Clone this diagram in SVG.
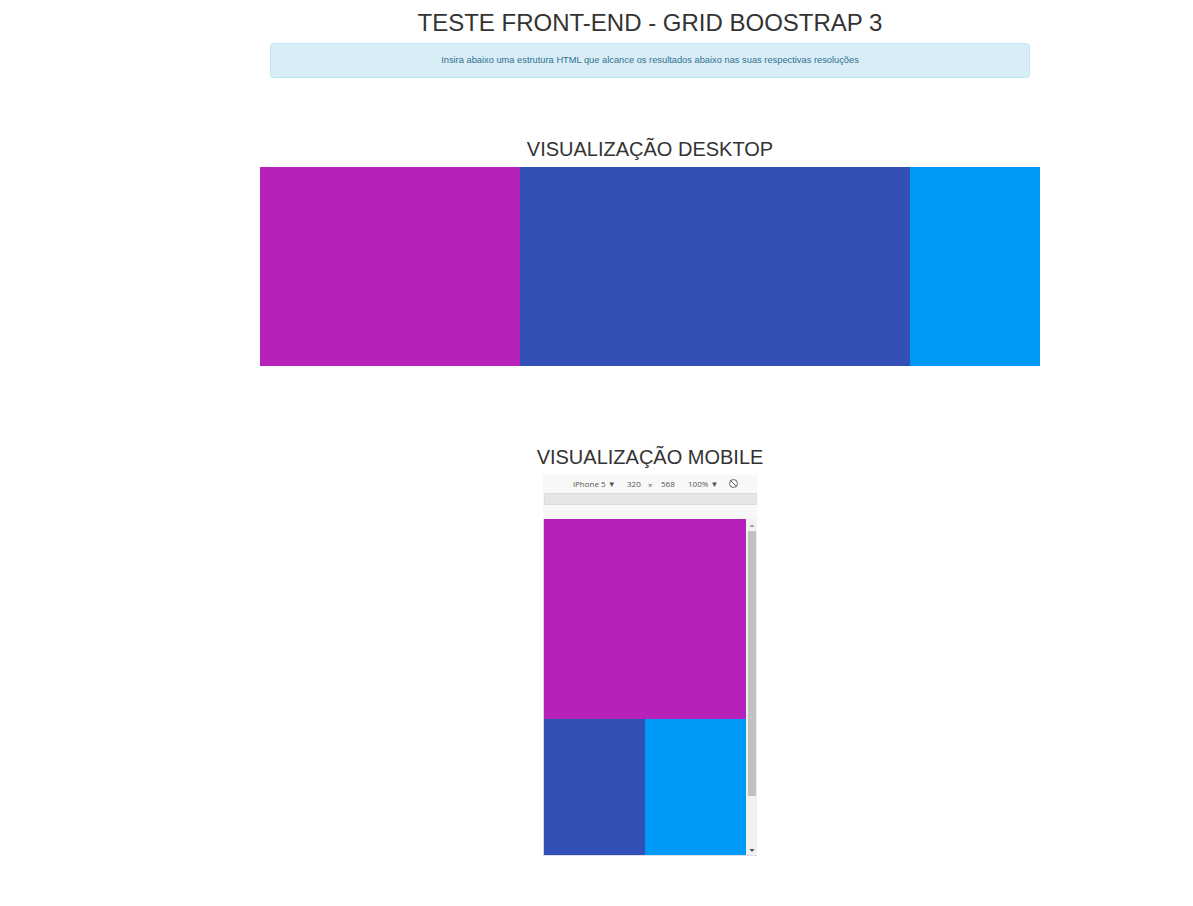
<svg xmlns="http://www.w3.org/2000/svg" width="1193" height="906" viewBox="0 0 1193 906">
<style>
text{font-family:"Liberation Sans",Arial,sans-serif;fill:#333}
.h{font-size:24px;text-anchor:middle}
.s{font-size:20px;text-anchor:middle}
.a{font-size:9.3px;fill:#31708f;text-anchor:middle}
.t{font-size:8px;fill:#555;font-family:"Open Sans","Liberation Sans",sans-serif}
.p{fill:#b521b9}
.b{fill:#3350b7}
.c{fill:#0099f8}
</style>
<rect width="1193" height="906" fill="#fff"/>
<g id="header">
<text class="h" x="650" y="31">TESTE FRONT-END - GRID BOOSTRAP 3</text>
<rect x="270.5" y="43.5" width="759" height="34" rx="3" fill="#d9edf7" stroke="#bce8f1"/>
<text class="a" x="650" y="62.5">Insira abaixo uma estrutura HTML que alcance os resultados abaixo nas suas respectivas resoluções</text>
</g>
<g id="desktop">
<text class="s" x="650" y="156">VISUALIZAÇÃO DESKTOP</text>
<rect class="p" x="260" y="167" width="260" height="199"/>
<rect class="b" x="520" y="167" width="390" height="199"/>
<rect class="c" x="910" y="167" width="130" height="199"/>
</g>
<g id="mobile">
<text class="s" x="650" y="464">VISUALIZAÇÃO MOBILE</text>
<rect x="543" y="475" width="214" height="381" fill="#f8f8f8"/>
<text class="t" x="573" y="487">iPhone 5 ▼</text>
<text class="t" x="627" y="487">320</text>
<text class="t" x="648" y="488" fill="#777">×</text>
<text class="t" x="661" y="487">568</text>
<text class="t" x="688" y="487">100% ▼</text>
<circle cx="733.5" cy="483.5" r="4" fill="none" stroke="#666" stroke-width="1"/>
<line x1="730.7" y1="480.7" x2="736.3" y2="486.3" stroke="#666" stroke-width="1"/>
<rect x="544.5" y="493.5" width="212" height="11" fill="#e6e6e6" stroke="#ddd"/>
<rect x="543" y="519" width="1" height="337" fill="#d8d8e0"/>
<rect class="p" x="544" y="519" width="202" height="200"/>
<rect class="b" x="544" y="719" width="101" height="137"/>
<rect class="c" x="645" y="719" width="101" height="137"/>
<rect x="746" y="519" width="11" height="337" fill="#f1f1f1"/>
<rect x="748" y="531" width="8" height="265" fill="#c1c1c1"/>
<path d="M749.5 527 L754.5 527 L752 524 Z" fill="#a3a3a3"/>
<path d="M749.5 849 L754.5 849 L752 852 Z" fill="#505050"/>
<rect x="543" y="855" width="214" height="1" fill="#dde"/>
</g>
</svg>
